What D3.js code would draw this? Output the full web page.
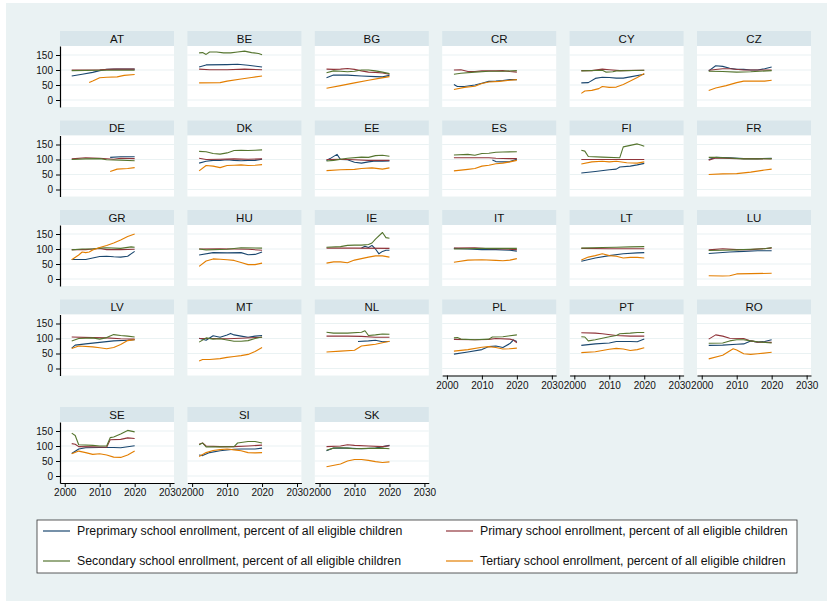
<!DOCTYPE html>
<html>
<head>
<meta charset="utf-8">
<script src="https://cdn.jsdelivr.net/npm/d3@7"></script>
<style>
  html, body { margin: 0; padding: 0; background: #ffffff; }
  svg { display: block; font-family: "Liberation Sans", Arial, sans-serif; }
</style>
</head>
<body>
<svg id="chart" width="833" height="605"></svg>
<script>
// Countries, one small panel each (row-major, 6 per row)
const countries = ["AT","BE","BG","CR","CY","CZ","DE","DK","EE","ES","FI","FR",
                   "GR","HU","IE","IT","LT","LU","LV","MT","NL","PL","PT","RO",
                   "SE","SI","SK"];

// Enrollment, percent of all eligible children: [year, value] per country
const preprimary = [
  [[2002,80],[2005,86],[2008,92],[2010,98],[2012,102],[2015,103],[2020,103]],
  [[2002,110],[2004,117],[2010,118],[2013,119],[2016,116],[2020,110]],
  [[2002,74],[2004,83],[2008,83],[2012,80],[2016,78],[2018,77],[2020,82]],
  [[2002,52],[2003,45],[2005,45],[2008,50],[2010,56],[2012,62],[2014,63],[2016,65],[2018,68],[2020,68]],
  [[2002,57],[2004,58],[2006,72],[2008,76],[2010,75],[2012,73],[2014,73],[2016,77],[2020,86]],
  [[2002,97],[2004,114],[2006,112],[2008,106],[2010,102],[2012,102],[2014,100],[2016,100],[2018,104],[2020,110]],
  [[2013,107],[2016,109],[2020,109]],
  [[2002,88],[2004,94],[2006,97],[2008,97],[2010,99],[2012,97],[2014,96],[2016,97],[2018,97],[2020,101]],
  [[2002,97],[2003,103],[2005,117],[2006,100],[2008,99],[2010,91],[2012,88],[2014,92],[2016,95],[2018,94],[2020,95]],
  [[2013,98],[2014,93],[2016,92],[2018,93],[2020,101]],
  [[2002,55],[2006,60],[2010,66],[2012,68],[2013,75],[2016,78],[2018,82],[2020,87]],
  [[2002,100],[2004,107],[2008,106],[2012,103],[2016,103],[2020,104]],
  [[2002,65],[2006,65],[2008,70],[2010,75],[2012,76],[2014,74],[2016,73],[2018,76],[2020,92]],
  [[2002,80],[2006,88],[2010,87],[2014,88],[2016,81],[2018,82],[2020,90]],
  [[2012,103],[2013,109],[2014,105],[2015,112],[2016,100],[2017,84],[2018,92],[2019,96],[2020,96]],
  [[2002,102],[2006,100],[2010,98],[2014,98],[2018,96],[2020,93]],
  [[2002,59],[2006,70],[2010,78],[2014,84],[2018,87],[2020,88]],
  [[2002,85],[2008,90],[2012,92],[2016,94],[2020,94]],
  [[2002,68],[2003,78],[2006,82],[2010,87],[2014,92],[2018,94],[2020,96]],
  [[2002,101],[2004,94],[2006,109],[2008,104],[2010,112],[2011,117],[2012,112],[2014,108],[2016,104],[2018,108],[2020,110]],
  [[2011,90],[2014,92],[2016,94],[2018,89],[2020,90]],
  [[2002,48],[2006,55],[2010,63],[2012,73],[2014,75],[2016,70],[2018,83],[2019,95],[2020,90]],
  [[2002,77],[2006,82],[2010,85],[2012,90],[2016,90],[2018,89],[2020,98]],
  [[2002,77],[2006,78],[2010,81],[2012,82],[2014,92],[2016,88],[2018,90],[2020,96]],
  [[2002,75],[2004,90],[2006,94],[2010,95],[2014,95],[2016,94],[2020,101]],
  [[2002,70],[2003,68],[2005,78],[2008,84],[2012,89],[2014,90],[2018,90],[2020,93]],
  [[2002,84],[2004,93],[2008,93],[2012,91],[2016,93],[2020,102]]
];

const primary = [
  [[2002,100],[2010,101],[2014,103],[2020,103]],
  [[2002,103],[2005,101],[2010,101],[2015,103],[2020,101]],
  [[2002,103],[2004,102],[2006,103],[2008,105],[2010,102],[2012,97],[2014,93],[2016,92],[2018,90],[2020,86]],
  [[2002,100],[2004,101],[2006,95],[2008,95],[2010,97],[2014,97],[2016,98],[2018,95],[2020,93]],
  [[2002,98],[2005,98],[2008,103],[2010,101],[2013,98],[2020,99]],
  [[2002,99],[2006,104],[2008,104],[2012,100],[2016,100],[2020,100]],
  [[2002,102],[2006,106],[2010,104],[2014,101],[2016,104],[2020,103]],
  [[2002,104],[2004,100],[2008,101],[2012,102],[2016,101],[2020,102]],
  [[2002,100],[2006,101],[2010,99],[2014,97],[2018,97],[2020,97]],
  [[2002,106],[2008,106],[2012,106],[2014,104],[2018,103],[2020,103]],
  [[2002,100],[2010,100],[2020,100]],
  [[2002,98],[2004,105],[2010,103],[2020,102]],
  [[2002,98],[2006,98],[2008,100],[2010,102],[2012,98],[2016,98],[2020,99]],
  [[2002,100],[2008,101],[2016,99],[2020,96]],
  [[2002,103],[2010,103],[2020,102]],
  [[2002,103],[2008,104],[2012,101],[2016,100],[2020,98]],
  [[2002,102],[2010,101],[2016,101],[2020,101]],
  [[2002,97],[2006,101],[2010,98],[2014,98],[2020,103]],
  [[2002,105],[2008,103],[2012,102],[2016,99],[2020,98]],
  [[2002,100],[2006,100],[2010,99],[2014,101],[2020,104]],
  [[2002,108],[2008,108],[2012,107],[2016,104],[2020,104]],
  [[2002,97],[2008,96],[2012,97],[2014,100],[2018,98],[2019,95],[2020,86]],
  [[2002,119],[2006,118],[2008,116],[2012,110],[2016,108],[2020,108]],
  [[2002,98],[2004,112],[2006,108],[2008,101],[2012,100],[2014,92],[2016,88],[2020,87]],
  [[2002,108],[2003,106],[2004,98],[2008,97],[2012,96],[2013,121],[2016,122],[2018,127],[2020,125]],
  [[2002,106],[2003,110],[2004,100],[2008,98],[2012,98],[2016,100],[2020,103]],
  [[2002,98],[2006,100],[2008,104],[2010,102],[2014,100],[2018,98],[2020,101]]
];

const secondary = [
  [[2002,98],[2010,99],[2020,99]],
  [[2002,157],[2003,158],[2004,152],[2005,160],[2007,160],[2009,157],[2011,157],[2013,160],[2015,163],[2017,158],[2019,155],[2020,151]],
  [[2002,91],[2004,97],[2006,96],[2008,94],[2010,96],[2012,100],[2014,100],[2016,97],[2018,93],[2020,88]],
  [[2002,86],[2004,89],[2008,93],[2012,96],[2016,96],[2020,98]],
  [[2002,97],[2008,99],[2009,93],[2011,94],[2012,97],[2020,99]],
  [[2002,96],[2006,95],[2010,93],[2014,94],[2020,98]],
  [[2002,100],[2006,102],[2010,103],[2012,99],[2016,98],[2020,96]],
  [[2002,127],[2004,126],[2006,120],[2008,118],[2010,122],[2012,130],[2014,131],[2016,130],[2018,131],[2020,132]],
  [[2002,95],[2004,97],[2008,104],[2012,108],[2014,107],[2016,113],[2018,114],[2020,111]],
  [[2002,115],[2006,117],[2008,114],[2010,120],[2012,121],[2014,124],[2016,125],[2020,126]],
  [[2002,131],[2003,128],[2004,110],[2008,108],[2013,106],[2014,142],[2016,147],[2018,152],[2019,148],[2020,144]],
  [[2002,107],[2004,107],[2008,105],[2012,102],[2016,102],[2020,103]],
  [[2002,97],[2005,100],[2008,100],[2010,103],[2012,104],[2016,102],[2019,107],[2020,106]],
  [[2002,100],[2004,97],[2010,99],[2014,104],[2020,103]],
  [[2002,106],[2006,108],[2008,112],[2010,113],[2012,113],[2014,115],[2015,120],[2016,133],[2018,155],[2019,138],[2020,136]],
  [[2002,100],[2006,101],[2010,102],[2014,102],[2020,102]],
  [[2002,103],[2008,105],[2012,106],[2016,107],[2020,108]],
  [[2002,95],[2006,96],[2010,97],[2014,99],[2018,101],[2020,105]],
  [[2002,92],[2004,100],[2008,102],[2010,98],[2012,103],[2014,113],[2016,110],[2018,108],[2020,105]],
  [[2002,88],[2004,102],[2006,98],[2008,99],[2010,95],[2012,91],[2014,91],[2016,93],[2018,100],[2020,105]],
  [[2002,121],[2004,118],[2008,118],[2012,121],[2013,126],[2014,110],[2016,112],[2018,115],[2020,114]],
  [[2002,102],[2003,103],[2004,98],[2008,96],[2012,98],[2013,105],[2016,106],[2020,112]],
  [[2002,106],[2003,105],[2004,92],[2006,96],[2010,106],[2012,110],[2013,116],[2016,118],[2018,120],[2020,120]],
  [[2002,84],[2006,85],[2008,92],[2010,96],[2012,96],[2014,92],[2016,89],[2020,85]],
  [[2002,143],[2003,135],[2004,104],[2008,102],[2010,100],[2012,100],[2013,128],[2014,130],[2016,140],[2018,152],[2020,147]],
  [[2002,104],[2003,110],[2004,97],[2008,97],[2012,98],[2013,110],[2016,115],[2018,115],[2020,110]],
  [[2002,86],[2004,93],[2006,94],[2008,93],[2010,91],[2014,92],[2018,93],[2020,91]]
];

const tertiary = [
  [[2007,58],[2008,63],[2010,74],[2012,76],[2015,77],[2017,82],[2020,85]],
  [[2002,57],[2008,58],[2010,63],[2014,70],[2017,75],[2020,80]],
  [[2002,39],[2006,48],[2010,57],[2014,66],[2017,72],[2020,78]],
  [[2002,35],[2005,42],[2008,46],[2010,55],[2012,60],[2015,62],[2018,66],[2020,68]],
  [[2002,22],[2003,30],[2005,32],[2007,38],[2008,45],[2010,42],[2012,43],[2014,52],[2016,63],[2018,75],[2020,88]],
  [[2002,32],[2004,40],[2007,48],[2010,58],[2012,63],[2016,63],[2018,63],[2020,66]],
  [[2013,60],[2015,68],[2018,70],[2020,73]],
  [[2002,62],[2004,80],[2006,78],[2008,73],[2010,80],[2012,81],[2014,82],[2016,80],[2018,81],[2020,83]],
  [[2002,63],[2006,66],[2010,67],[2012,70],[2015,72],[2018,68],[2020,72]],
  [[2002,62],[2006,67],[2008,70],[2010,78],[2012,81],[2014,86],[2016,88],[2018,92],[2020,97]],
  [[2002,85],[2005,92],[2008,94],[2010,92],[2012,94],[2015,89],[2018,88],[2020,92]],
  [[2002,50],[2006,52],[2010,53],[2014,58],[2018,65],[2020,68]],
  [[2002,64],[2004,80],[2005,90],[2006,88],[2007,90],[2008,97],[2010,105],[2012,112],[2014,120],[2016,130],[2018,142],[2020,150]],
  [[2002,42],[2004,60],[2006,67],[2008,66],[2010,64],[2012,62],[2014,55],[2016,48],[2018,48],[2020,53]],
  [[2002,53],[2004,57],[2006,57],[2008,54],[2010,63],[2012,68],[2014,73],[2016,77],[2018,77],[2020,73]],
  [[2002,56],[2006,63],[2010,64],[2014,62],[2016,61],[2018,63],[2020,68]],
  [[2002,63],[2004,73],[2006,78],[2008,84],[2010,78],[2012,76],[2014,70],[2016,72],[2018,72],[2020,70]],
  [[2002,11],[2006,10],[2008,11],[2010,17],[2014,18],[2020,19]],
  [[2002,67],[2004,75],[2008,72],[2010,69],[2012,66],[2014,70],[2016,80],[2018,93],[2020,96]],
  [[2002,25],[2003,30],[2005,30],[2008,33],[2010,37],[2012,40],[2014,43],[2016,47],[2018,57],[2020,70]],
  [[2002,55],[2006,58],[2010,61],[2012,75],[2014,78],[2016,81],[2018,86],[2020,91]],
  [[2002,58],[2006,63],[2010,71],[2012,73],[2014,70],[2016,65],[2018,66],[2020,68]],
  [[2002,53],[2006,56],[2010,64],[2012,67],[2014,65],[2016,60],[2018,63],[2020,69]],
  [[2002,32],[2006,44],[2009,66],[2010,62],[2012,49],[2014,47],[2016,49],[2020,54]],
  [[2002,74],[2004,83],[2006,78],[2008,72],[2010,74],[2012,70],[2014,63],[2016,62],[2018,70],[2020,83]],
  [[2002,65],[2004,78],[2006,85],[2008,88],[2010,90],[2012,87],[2014,84],[2016,78],[2018,77],[2020,78]],
  [[2002,31],[2006,40],[2008,50],[2010,55],[2012,55],[2014,52],[2016,48],[2018,45],[2020,47]]
];

const seriesLabels = [
  "Preprimary school enrollment, percent of all eligible children",
  "Primary school enrollment, percent of all eligible children",
  "Secondary school enrollment, percent of all eligible children",
  "Tertiary school enrollment, percent of all eligible children"
];
const seriesColors = ["#1a476f", "#90353b", "#55752f", "#e37e00"];
const xTicks = [2000, 2010, 2020, 2030];
const yTicks = [0, 50, 100, 150];

const series = [preprimary, primary, secondary, tertiary];

const svg = d3.select("#chart");

// graph region
svg.append("rect").attr("x", 6).attr("y", 3).attr("width", 821).attr("height", 598)
   .attr("fill", "#eaf2f3");

const nCols = 6;
const colX = d => 60 + d * 127.4;
const rowY = [31, 120.5, 210, 299.5, 407];
const panelW = 114, stripH = 15, plotH = 61;

const line = d3.line();

countries.forEach((name, k) => {
  const r = Math.floor(k / nCols), c = k % nCols;
  const x0 = colX(c), y0 = rowY[r];
  const top = y0 + stripH, bottom = top + plotH;
  const x = d3.scaleLinear().domain([1998.65, 2031.25]).range([x0, x0 + panelW]);
  const y = d3.scaleLinear().domain([-23.3, 180]).range([bottom, top]);
  const g = svg.append("g");

  // strip with country name
  g.append("rect").attr("x", x0).attr("y", y0).attr("width", panelW).attr("height", stripH)
   .attr("fill", "#d9e6eb");
  g.append("text").attr("x", x0 + panelW / 2).attr("y", y0 + 11.5)
   .attr("text-anchor", "middle").attr("font-size", 11.5).attr("fill", "#111")
   .text(name);

  // plot region
  g.append("rect").attr("x", x0).attr("y", top).attr("width", panelW).attr("height", plotH)
   .attr("fill", "#ffffff");

  // horizontal gridlines
  g.selectAll("line.grid").data(yTicks).join("line")
   .attr("x1", x0).attr("x2", x0 + panelW)
   .attr("y1", d => y(d)).attr("y2", d => y(d))
   .attr("stroke", "#eaf2f3").attr("stroke-width", 1.2);

  // series lines
  series.forEach((s, i) => {
    g.append("path")
     .attr("d", line(s[k].map(p => [x(p[0]), y(p[1])])))
     .attr("fill", "none").attr("stroke", seriesColors[i])
     .attr("stroke-width", 1.1).attr("stroke-linejoin", "round");
  });

  // y axis on the first column
  if (c === 0) {
    const ax = g.append("g").attr("transform", `translate(${x0},0)`)
      .call(d3.axisLeft(y).tickValues(yTicks).tickSize(4).tickSizeOuter(0).tickPadding(3));
    ax.select(".domain").attr("stroke", "#000").attr("stroke-width", 1.2);
    ax.selectAll(".tick line").attr("stroke", "#000");
    ax.selectAll("text").attr("font-size", 10).attr("fill", "#111")
      .attr("font-family", "Liberation Sans, Arial, sans-serif");
  }
  // x axis on panels with nothing below
  if (k + nCols >= countries.length) {
    const ax = g.append("g").attr("transform", `translate(0,${bottom})`)
      .call(d3.axisBottom(x).tickValues(xTicks).tickFormat(d3.format("d"))
            .tickSize(4).tickSizeOuter(0).tickPadding(2));
    ax.select(".domain").attr("stroke", "#000").attr("stroke-width", 1.2);
    ax.selectAll(".tick line").attr("stroke", "#000");
    ax.selectAll("text").attr("font-size", 10).attr("fill", "#111")
      .attr("font-family", "Liberation Sans, Arial, sans-serif");
  }
});

// legend
const lg = svg.append("g");
lg.append("rect").attr("x", 37).attr("y", 520).attr("width", 760).attr("height", 53)
  .attr("fill", "#ffffff").attr("stroke", "#333").attr("stroke-width", 0.8);
const legendPos = [[43, 531], [446, 531], [43, 561], [446, 561]];
seriesLabels.forEach((lab, i) => {
  const [lx, ly] = legendPos[i];
  lg.append("line").attr("x1", lx).attr("x2", lx + 27).attr("y1", ly).attr("y2", ly)
    .attr("stroke", seriesColors[i]).attr("stroke-width", 1.2);
  lg.append("text").attr("x", lx + 34).attr("y", ly + 4.2)
    .attr("font-size", 12.3).attr("fill", "#111").text(lab);
});
</script>
</body>
</html>
